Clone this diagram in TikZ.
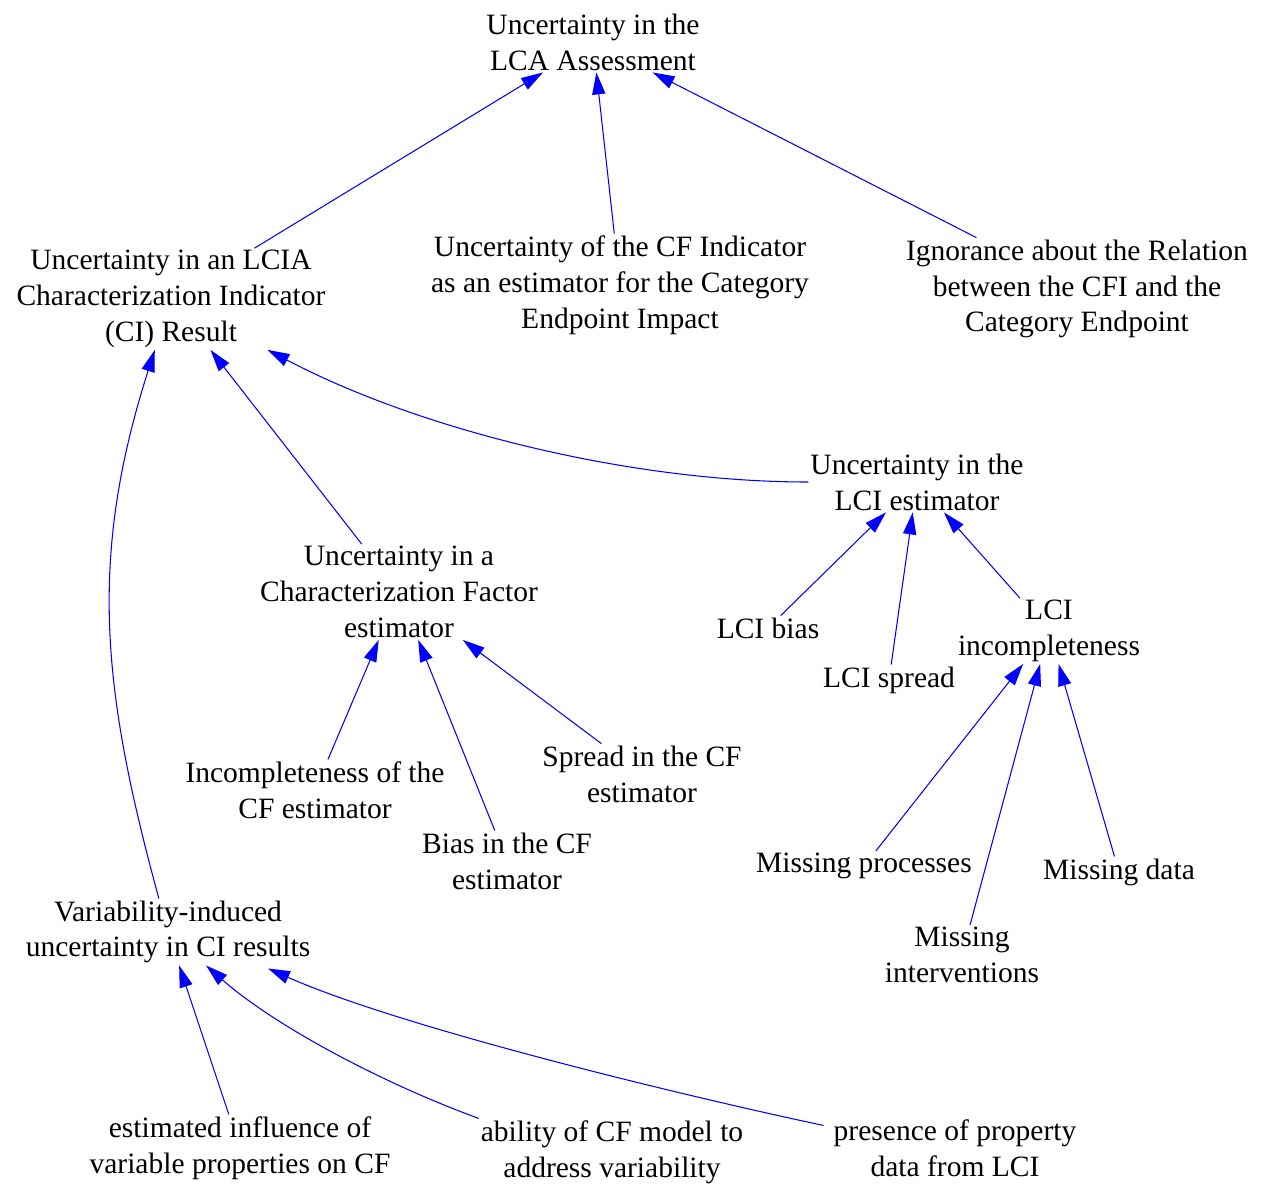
\documentclass[tikz,border=0pt]{standalone}
\usepackage{fontspec}
\setmainfont{Liberation Serif}
\usepackage{tikz}
\usetikzlibrary{arrows.meta, calc}
\definecolor{linkblue}{RGB}{0,0,255}

\begin{document}
\begin{tikzpicture}[
      x=0.02cm, y=-0.02cm,
      every node/.style={align=center, inner sep=1pt,
        font=\fontsize{16.8}{20.4}\selectfont},
      link/.style={-{Triangle[length=12.5pt,width=7.5pt]}, draw=linkblue,
        line width=0.6pt}
    ]
      \useasboundingbox (0,0) rectangle (1267,1188);
      % upper levels
      \node (top) at (593,42) {Uncertainty in the\\LCA Assessment};
      \node (ci) at (171,299) {Uncertainty in an LCIA\\Characterization Indicator\\(CI) Result};
      \node (cfi) at (620,285) {Uncertainty of the CF Indicator\\as an estimator for the Category\\Endpoint Impact};
      \node (ign) at (1077,289) {Ignorance about the Relation\\between the CFI and the\\Category Endpoint};
      \node (lci) at (917,482) {Uncertainty in the\\LCI estimator};
      \node (cfe) at (399,592) {Uncertainty in a\\Characterization Factor\\estimator};
      % LCI branch
      \node (lcibias) at (768,628) {LCI bias};
      \node (lcispread) at (889,680) {LCI spread};
      \node (lciinc) at (1049,631) {LCI\\incompleteness};
      \node (missproc) at (864,866) {Missing processes};
      \node (missint) at (962,955) {Missing\\interventions};
      \node (missdata) at (1119,872) {Missing data};
      % CF branch
      \node (inccf) at (315,790) {Incompleteness of the\\CF estimator};
      \node (biascf) at (507,861) {Bias in the CF\\estimator};
      \node (spreadcf) at (642,774) {Spread in the CF\\estimator};
      % variability branch
      \node (var) at (168,932) {Variability-induced\\uncertainty in CI results};
      \node (est) at (240,1148) {estimated influence of\\variable properties on CF};
      \node (abil) at (612,1152) {ability of CF model to\\address variability};
      \node (pres) at (955,1148) {presence of property\\data from LCI};

      \draw[link] (ci) -- (top);
      \draw[link] (cfi) -- (top);
      \draw[link] (ign) -- (top);
      \draw[link] (cfe) -- (ci);
      \draw[link] (lci.west) .. controls (630,482) and (420,430) .. (ci);
      \draw[link] (var) .. controls (102,690) and (88,559) .. (ci);
      \draw[link] (inccf) -- (cfe);
      \draw[link] (biascf) -- (cfe);
      \draw[link] (spreadcf) -- (cfe);
      \draw[link] (lcibias) -- (lci);
      \draw[link] (lcispread) -- (lci);
      \draw[link] (lciinc) -- (lci);
      \draw[link] (missproc) -- (lciinc);
      \draw[link] (missint) -- (lciinc);
      \draw[link] (missdata) -- (lciinc);
      \draw[link] (est) -- (var);
      \draw[link] (abil.north west) .. controls (382,1083) and (275,1026) .. (var);
      \draw[link] ($(pres.north west)+(-8,8)$) .. controls (680,1095) and (400,1027) .. ($(var.south)+(100,3)$);
    \end{tikzpicture}
\end{document}
